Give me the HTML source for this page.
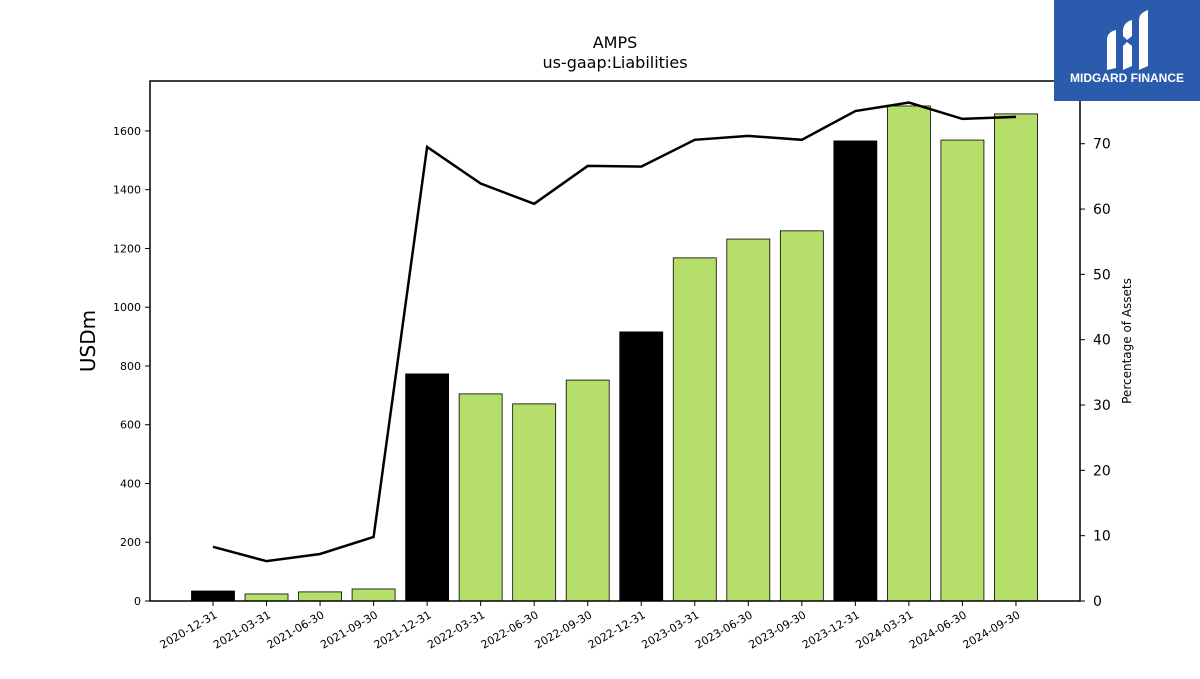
<!DOCTYPE html>
<html><head><meta charset="utf-8"><style>
body{margin:0;background:#fff;width:1200px;height:675px;overflow:hidden;font-family:"DejaVu Sans","Liberation Sans",sans-serif;}
</style></head><body>
<svg id="chart" width="1200" height="675" xmlns="http://www.w3.org/2000/svg" font-family="DejaVu Sans, Liberation Sans, sans-serif">
<text x="615" y="48" text-anchor="middle" font-size="16">AMPS</text>
<text x="615" y="68" text-anchor="middle" font-size="16">us-gaap:Liabilities</text>
<g id="bars"></g>
<g id="line"></g>
<rect x="150" y="81" width="930" height="520" fill="none" stroke="#000" stroke-width="1.5"/>
<g id="axes"></g>
<text transform="translate(95,341) rotate(-90)" text-anchor="middle" font-size="20">USDm</text>
<text transform="translate(1131,341) rotate(-90)" text-anchor="middle" font-size="12">Percentage of Assets</text>
<g>
<rect x="1054" y="0" width="146" height="101" fill="#2b5bad"/>
<path d="M1107,40 Q1107,32 1116,30 L1116,68 L1107,70 Z" fill="#fff"/>
<path d="M1123,30 Q1124,22 1132,20 L1132,36 L1127,40 L1123,36 Z M1123,46 L1127,42 L1132,46 L1132,66 L1123,70 Z" fill="#fff"/>
<path d="M1139,20 Q1139,13 1148,10 L1148,66 L1139,70 Z" fill="#fff"/>
<text x="1127" y="82" text-anchor="middle" font-size="12" font-weight="bold" fill="#fff" font-family="Liberation Sans, sans-serif">MIDGARD FINANCE</text>
</g>
</svg>
<script>
const categories=["2020-12-31","2021-03-31","2021-06-30","2021-09-30","2021-12-31","2022-03-31","2022-06-30","2022-09-30","2022-12-31","2023-03-31","2023-06-30","2023-09-30","2023-12-31","2024-03-31","2024-06-30","2024-09-30"];
const liabilities=[34,24,31,41,773,705,671,752,916,1168,1232,1260,1566,1685,1569,1658];
const percentAssets=[8.3,6.1,7.2,9.8,69.5,63.9,60.8,66.6,66.5,70.6,71.2,70.6,75.0,76.3,73.8,74.1];
const annual=[true,false,false,false,true,false,false,false,true,false,false,false,true,false,false,false];
const leftTicks=[0,200,400,600,800,1000,1200,1400,1600];
const rightTicks=[0,10,20,30,40,50,60,70];
const NS="http://www.w3.org/2000/svg";
const L=150,R=1080,T=81,B=601;
const yL=v=>B-v*(B-T)/1770;
const yR=v=>B-v*(B-T)/79.6;
const step=53.53,x0=213;
const xC=i=>x0+i*step;
function mk(t,a,p){const e=document.createElementNS(NS,t);for(const k in a)e.setAttribute(k,a[k]);p.appendChild(e);return e;}
const bars=document.getElementById('bars'),line=document.getElementById('line'),axes=document.getElementById('axes');
liabilities.forEach((v,i)=>{
 const r=mk('rect',{x:xC(i)-21.5,y:yL(v),width:43,height:B-yL(v),fill:annual[i]?'#000':'#b5de6a',stroke:'#000','stroke-width':0.8},bars);
 
 
});
const pl=mk('polyline',{points:percentAssets.map((v,i)=>xC(i)+','+yR(v)).join(' '),fill:'none',stroke:'#000','stroke-width':2.5},line);


leftTicks.forEach(v=>{
 mk('line',{x1:L-5,x2:L,y1:yL(v),y2:yL(v),stroke:'#000'},axes);
 const t=mk('text',{x:L-9,y:yL(v)+4,'text-anchor':'end','font-size':11},axes);t.textContent=v;
 
 
});
rightTicks.forEach(v=>{
 mk('line',{x1:R,x2:R+5,y1:yR(v),y2:yR(v),stroke:'#000'},axes);
 const t=mk('text',{x:R+13,y:yR(v)+5,'font-size':14},axes);t.textContent=v;
 
 
});
categories.forEach((c,i)=>{
 mk('line',{x1:xC(i),x2:xC(i),y1:B,y2:B+5,stroke:'#000'},axes);
 const t=mk('text',{x:0,y:0,'text-anchor':'end','font-size':11,transform:`translate(${xC(i)+5},${B+16}) rotate(-30)`},axes);t.textContent=c;
 
 
});
</script>
</body></html>
